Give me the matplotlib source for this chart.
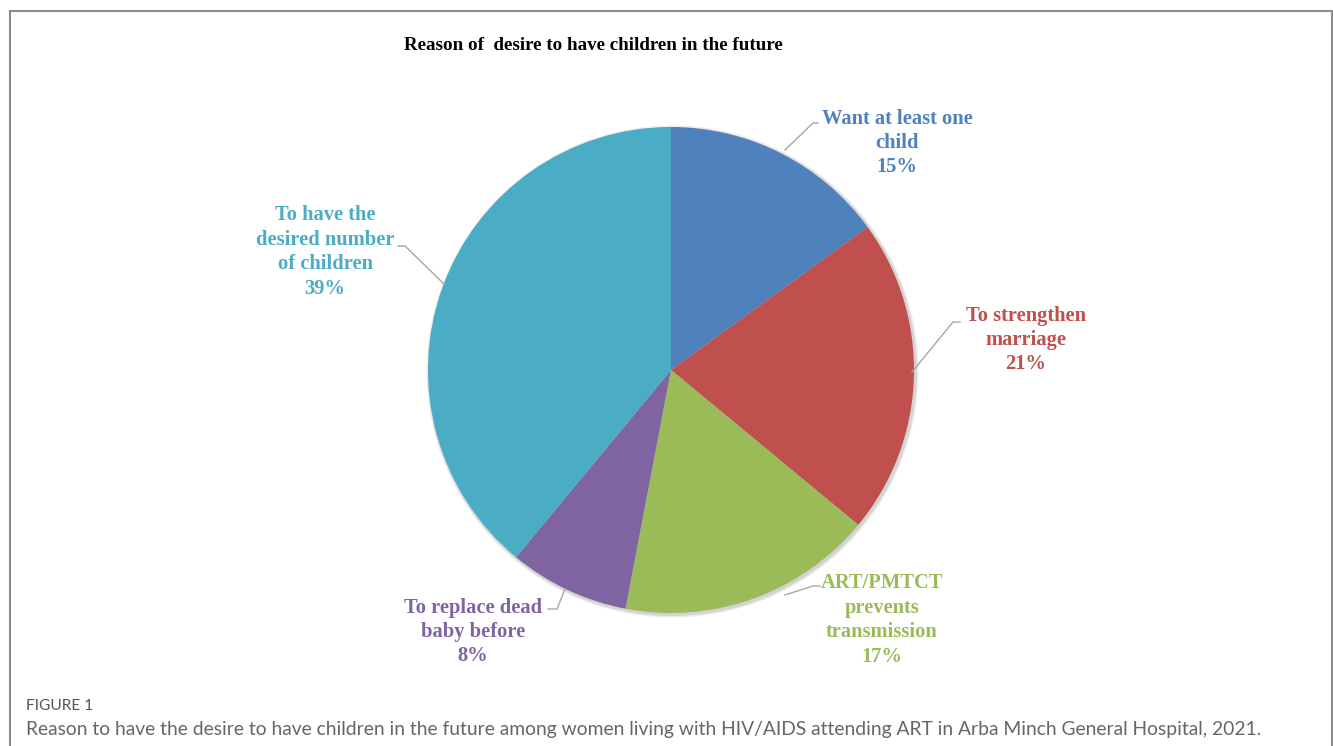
import matplotlib.pyplot as plt
from matplotlib.patches import Rectangle, Circle

categories = ["Want at least one\nchild", "To strengthen\nmarriage",
              "ART/PMTCT\nprevents\ntransmission", "To replace dead\nbaby before",
              "To have the\ndesired number\nof children"]
percent = [15, 21, 17, 8, 39]
colors = ["#4F81BD", "#C0504D", "#9BBB59", "#8064A2", "#4BACC6"]

title = "Reason of  desire to have children in the future"
fig_label = "FIGURE 1"
caption = ("Reason to have the desire to have children in the future among women living "
           "with HIV/AIDS attending ART in Arba Minch General Hospital, 2021.")

# pixel layout of the reference (pie centre and radius)
W, H = 1333, 746
cx, cy, R = 671, 370, 243

def px(x, y):
    return (x - cx) / R, (cy - y) / R

# label centre, leader line points (pixels)
label_pos = [(897, 143), (1026, 340), (882, 620), (473, 632), (325, 252)]
leaders = [
    [(785, 150), (813, 123), (818, 123)],
    [(912, 372), (953, 322), (960, 322)],
    [(785, 595), (813, 586), (820, 586)],
    [(565, 589), (557, 609), (548, 609)],
    [(444, 284), (405, 246), (398, 246)],
]

fig = plt.figure(figsize=(W / 100, H / 100), dpi=100)
ax = fig.add_axes([0, 0, 1, 1])

# soft shadow
for r, a in [(1.012, 0.25), (1.006, 0.4)]:
    ax.add_patch(Circle((0.006, -0.006), r, color="#b0b0b0", alpha=a, lw=0, zorder=0))

ax.pie(percent, colors=colors, startangle=90, counterclock=False, radius=1,
       center=(0, 0), frame=True, wedgeprops=dict(linewidth=0, zorder=1))
ax.set_xlim(-cx / R, (W - cx) / R)
ax.set_ylim(-(H - cy) / R, cy / R)
ax.set_aspect("auto")
ax.axis("off")

for cat, p, c, (lx, ly), pts in zip(categories, percent, colors, label_pos, leaders):
    x, y = px(lx, ly)
    ax.text(x, y, f"{cat}\n{p}%", color=c, ha="center", va="center",
            family="Liberation Serif", weight="bold", fontsize=14.8, linespacing=1.29)
    xs, ys = zip(*[px(a, b) for a, b in pts])
    ax.plot(xs, ys, color="#a6a6a6", lw=1)

fig.text(593 / W, 1 - 45 / H, title, ha="center", va="center",
         family="Liberation Serif", weight="bold", fontsize=13.7, color="black")

fig.add_artist(Rectangle((10 / W, -0.02), (1332 - 10) / W, 1.02 - 11 / H,
                         transform=fig.transFigure, fill=False, edgecolor="#8c8c8c", lw=1.5))

fig.text(26 / W, 1 - 706 / H, fig_label, ha="left", va="center",
         family="Lato", fontsize=11.2, color="#555555")
fig.text(26 / W, 1 - 729 / H, caption, ha="left", va="center",
         family="Lato", fontsize=13.9, color="#666666")

fig.savefig("out.png", dpi=100, facecolor="white")
